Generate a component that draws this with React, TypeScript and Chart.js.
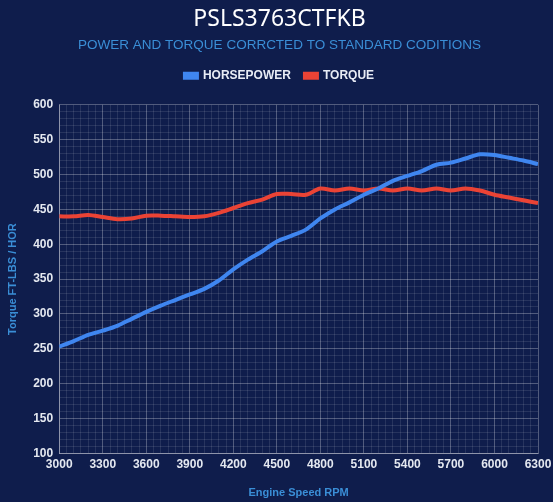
import React, { useEffect, useRef } from "react";
import { Chart, registerables } from "chart.js";

Chart.register(...registerables);

const rpm = [3000, 3100, 3200, 3300, 3400, 3500, 3600, 3700, 3800, 3900, 4000, 4100, 4200, 4300, 4400, 4500, 4600, 4700, 4800, 4900, 5000, 5100, 5200, 5300, 5400, 5500, 5600, 5700, 5800, 5900, 6000, 6100, 6200, 6300];
const horsepower = [253, 261, 270, 276, 283, 293, 303, 312, 320, 328, 336, 348, 364, 378, 390, 404, 412, 421, 437, 450, 460, 471, 480, 491, 498, 505, 514, 517, 523, 529, 528, 524, 520, 515];
const torque = [440, 440, 442, 439, 436, 437, 441, 441, 440, 439, 440, 445, 452, 459, 464, 472, 472, 471, 480, 477, 480, 477, 480, 477, 480, 477, 480, 477, 480, 477, 471, 467, 463, 459];

const BG = "#0f1d4c";
const SANS = "'Liberation Sans', Arial, sans-serif";

const legendSpacer = {
  id: "legendSpacer",
  beforeInit(chart: any) {
    const legend = chart.legend;
    if (!legend) return;
    const origFit = legend.fit;
    legend.fit = function () {
      origFit.call(this);
      this.height += 13;
    };
  },
};

export default function App() {
  const ref = useRef<HTMLCanvasElement | null>(null);
  useEffect(() => {
    document.body.style.margin = "0";
    document.body.style.background = BG;
    if (!ref.current) return;
    const chart = new Chart(ref.current, {
      type: "line",
      data: {
        datasets: [
          {
            label: "HORSEPOWER",
            data: rpm.map((r, i) => ({ x: r, y: horsepower[i] })),
            borderColor: "#3f86f0",
            backgroundColor: "#3f86f0",
            borderWidth: 4,
            pointRadius: 0,
            tension: 0.3,
          },
          {
            label: "TORQUE",
            data: rpm.map((r, i) => ({ x: r, y: torque[i] })),
            borderColor: "#ea4335",
            backgroundColor: "#ea4335",
            borderWidth: 4,
            pointRadius: 0,
            tension: 0.3,
          },
        ],
      },
      plugins: [legendSpacer],
      options: {
        animation: false,
        responsive: false,
        maintainAspectRatio: false,
        layout: { padding: { left: 6, right: 0, top: 6, bottom: 2 } },
        plugins: {
          title: {
            display: true,
            text: "PSLS3763CTFKB",
            color: "#ffffff",
            font: { family: "'Noto Sans', 'Open Sans', sans-serif", size: 23, weight: "normal" },
            padding: { top: 0, bottom: 4 },
          },
          subtitle: {
            display: true,
            text: "POWER AND TORQUE CORRCTED TO STANDARD CODITIONS",
            color: "#3a8ed6",
            font: { family: SANS, size: 13.5, weight: "normal" },
            padding: { top: 0, bottom: 2 },
          },
          legend: {
            display: true,
            labels: {
              color: "#e8ecf5",
              boxWidth: 12,
              boxHeight: 4,
              padding: 14,
              font: { family: SANS, size: 12, weight: "bold" },
            },
          },
          tooltip: { enabled: false },
        },
        scales: {
          x: {
            type: "linear",
            min: 3000,
            max: 6300,
            afterFit: (s: any) => {
              s.paddingRight = 15;
            },
            border: { color: "rgba(255,255,255,0.35)" },
            grid: {
              color: (ctx: any) =>
                ctx.tick && ctx.tick.value % 300 === 0 ? "rgba(255,255,255,0.28)" : "rgba(255,255,255,0.1)",
              drawTicks: false,
            },
            ticks: {
              stepSize: 50,
              autoSkip: false,
              maxRotation: 0,
              color: "#e4e8f0",
              padding: 4,
              font: { family: SANS, size: 12, weight: "bold" },
              callback: (v: any) => (Number(v) % 300 === 0 ? String(v) : ""),
            },
            title: {
              display: true,
              text: "Engine Speed RPM",
              color: "#3a8ed6",
              font: { family: SANS, size: 11, weight: "bold" },
              padding: { top: 11, bottom: 0 },
            },
          },
          y: {
            min: 100,
            max: 600,
            border: { color: "rgba(255,255,255,0.35)" },
            grid: {
              color: (ctx: any) =>
                ctx.tick && ctx.tick.value % 50 === 0 ? "rgba(255,255,255,0.28)" : "rgba(255,255,255,0.1)",
              drawTicks: false,
            },
            ticks: {
              stepSize: 10,
              autoSkip: false,
              color: "#e4e8f0",
              padding: 6,
              font: { family: SANS, size: 12, weight: "bold" },
              callback: (v: any) => (Number(v) % 50 === 0 ? String(v) : ""),
            },
            title: {
              display: true,
              text: "Torque FT-LBS / HOR",
              color: "#3a8ed6",
              font: { family: SANS, size: 11, weight: "bold" },
              padding: { top: 0, bottom: 8 },
            },
          },
        },
      },
    });
    return () => chart.destroy();
  }, []);
  return (
    <div style={{ width: 553, height: 502, background: BG }}>
      <canvas ref={ref} width={553} height={502} style={{ display: "block" }} />
    </div>
  );
}
